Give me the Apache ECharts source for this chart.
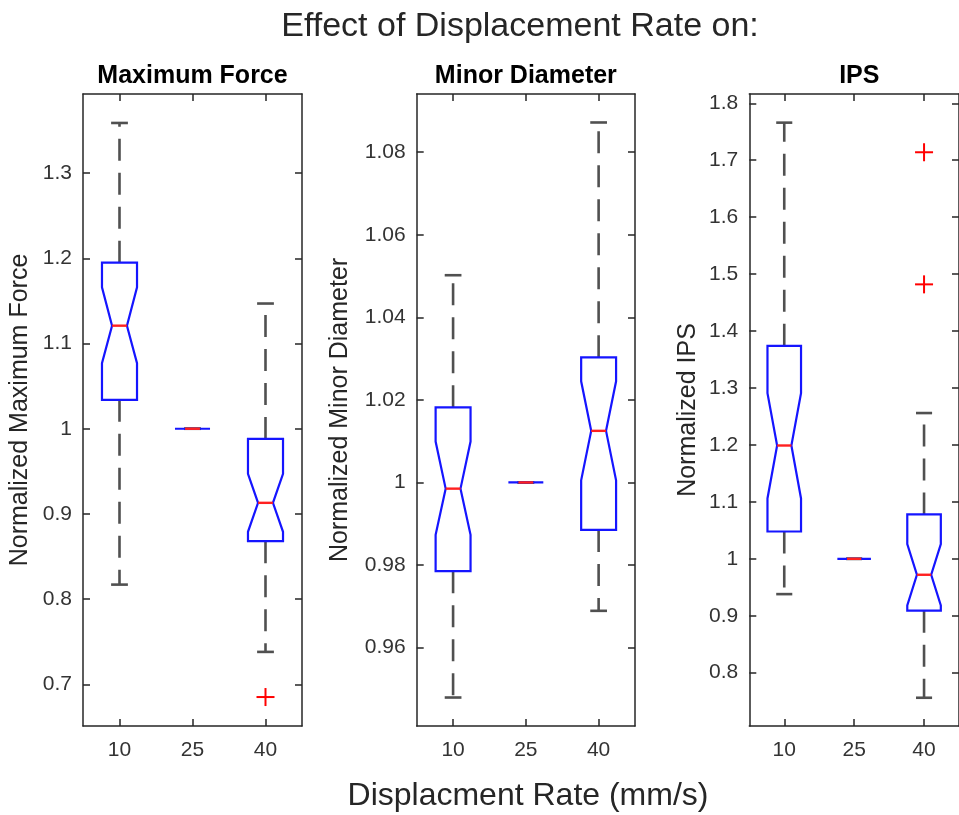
<!DOCTYPE html>
<html>
<head>
<meta charset="utf-8">
<script src="https://cdn.jsdelivr.net/npm/echarts@6/dist/echarts.min.js"></script>
<style>
html,body{margin:0;padding:0;background:#fff;}
#chart{width:959px;height:815px;}
</style>
</head>
<body>
<div id="chart"></div>
<script>
// ---------- data ----------
const categories = ['10', '25', '40'];

// Panel 1: Maximum Force
const mfLower   = [0.817, 1.0, 0.738];
const mfQ1      = [1.034, 1.0, 0.868];
const mfNotchLo = [1.077, 1.0, 0.879];
const mfMedian  = [1.121, 1.0, 0.913];
const mfNotchHi = [1.166, 1.0, 0.947];
const mfQ3      = [1.195, 1.0, 0.988];
const mfUpper   = [1.359, 1.0, 1.147];
const mfOutlierCat = ['40'];
const mfOutlierVal = [0.685];
const mfTicks = [0.7, 0.8, 0.9, 1.0, 1.1, 1.2, 1.3];

// Panel 2: Minor Diameter
const mdLower   = [0.9479, 1.0, 0.9689];
const mdQ1      = [0.9785, 1.0, 0.9885];
const mdNotchLo = [0.9873, 1.0, 1.0005];
const mdMedian  = [0.9985, 1.0, 1.0125];
const mdNotchHi = [1.0099, 1.0, 1.0245];
const mdQ3      = [1.0182, 1.0, 1.0303];
const mdUpper   = [1.0502, 1.0, 1.0872];
const mdOutlierCat = [];
const mdOutlierVal = [];
const mdTicks = [0.96, 0.98, 1.0, 1.02, 1.04, 1.06, 1.08];

// Panel 3: IPS
const ipsLower   = [0.938, 1.0, 0.756];
const ipsQ1      = [1.048, 1.0, 0.909];
const ipsNotchLo = [1.106, 1.0, 0.918];
const ipsMedian  = [1.199, 1.0, 0.972];
const ipsNotchHi = [1.291, 1.0, 1.026];
const ipsQ3      = [1.374, 1.0, 1.078];
const ipsUpper   = [1.766, 1.0, 1.256];
const ipsOutlierCat = ['40', '40'];
const ipsOutlierVal = [1.714, 1.482];
const ipsTicks = [0.8, 0.9, 1.0, 1.1, 1.2, 1.3, 1.4, 1.5, 1.6, 1.7, 1.8];

const panelTitles = ['Maximum Force', 'Minor Diameter', 'IPS'];
const yAxisNames = ['Normalized Maximum Force', 'Normalized Minor Diameter', 'Normalized IPS'];
const mainTitle = 'Effect of Displacement Rate on:';
const xAxisTitle = 'Displacment Rate (mm/s)';

// ---------- layout ----------
const FONT = '"Liberation Sans", Arial, Helvetica, sans-serif';
const panels = [
  {left: 83,    width: 219, min: 0.651, max: 1.393, nameGap: 50,
   stats: [mfLower, mfQ1, mfNotchLo, mfMedian, mfNotchHi, mfQ3, mfUpper],
   outCat: mfOutlierCat, outVal: mfOutlierVal, ticks: mfTicks},
  {left: 416.7, width: 218.3, min: 0.9410, max: 1.0941, nameGap: 64,
   stats: [mdLower, mdQ1, mdNotchLo, mdMedian, mdNotchHi, mdQ3, mdUpper],
   outCat: mdOutlierCat, outVal: mdOutlierVal, ticks: mdTicks},
  {left: 749.3, width: 220, min: 0.7064, max: 1.8163, nameGap: 49,
   stats: [ipsLower, ipsQ1, ipsNotchLo, ipsMedian, ipsNotchHi, ipsQ3, ipsUpper],
   outCat: ipsOutlierCat, outVal: ipsOutlierVal, ticks: ipsTicks}
];
const TOP = 94, HEIGHT = 632;
const AX = '#262626';
const fmt = v => String(+(+v).toFixed(3));

function renderBox(params, api) {
  const i = api.value(0);
  const lo = api.value(1), q1 = api.value(2), nlo = api.value(3), med = api.value(4),
        nhi = api.value(5), q3 = api.value(6), hi = api.value(7);
  const band = api.size([1, 0])[0];
  const hw = band * 0.24, nw = band * 0.102, cw = band * 0.115;
  const c = api.coord([i, med]);
  const cx = c[0];
  const y = v => api.coord([i, v])[1];
  const wStyle = {stroke: '#505050', lineWidth: 2.6, lineDash: [22, 12], fill: null};
  const cStyle = {stroke: '#505050', lineWidth: 2.6, fill: null};
  return {
    type: 'group',
    children: [
      {type: 'line', shape: {x1: cx, y1: y(q3), x2: cx, y2: y(hi)}, style: wStyle},
      {type: 'line', shape: {x1: cx, y1: y(q1), x2: cx, y2: y(lo)}, style: wStyle},
      {type: 'line', shape: {x1: cx - cw, y1: y(hi), x2: cx + cw, y2: y(hi)}, style: cStyle},
      {type: 'line', shape: {x1: cx - cw, y1: y(lo), x2: cx + cw, y2: y(lo)}, style: cStyle},
      {type: 'polygon', shape: {points: [
        [cx - hw, y(q1)], [cx - hw, y(nlo)], [cx - nw, y(med)], [cx - hw, y(nhi)], [cx - hw, y(q3)],
        [cx + hw, y(q3)], [cx + hw, y(nhi)], [cx + nw, y(med)], [cx + hw, y(nlo)], [cx + hw, y(q1)]
      ]}, style: {stroke: '#1515ff', lineWidth: 2.2, fill: null}},
      {type: 'line', shape: {x1: cx - nw, y1: y(med), x2: cx + nw, y2: y(med)},
       style: {stroke: '#ff2020', lineWidth: 2.4}}
    ]
  };
}

function renderOutlier(params, api) {
  const p = api.coord([api.value(0), api.value(1)]);
  const h = 9;
  const st = {stroke: '#ff0000', lineWidth: 2};
  return {type: 'group', children: [
    {type: 'line', shape: {x1: p[0] - h, y1: p[1], x2: p[0] + h, y2: p[1]}, style: st},
    {type: 'line', shape: {x1: p[0], y1: p[1] - h, x2: p[0], y2: p[1] + h}, style: st}
  ]};
}

const grid = [], xAxis = [], yAxis = [], series = [], graphic = [];
panels.forEach((pn, k) => {
  grid.push({left: pn.left, top: TOP, width: pn.width, height: HEIGHT, containLabel: false});
  const tickCommon = {show: true, inside: true, length: 7, lineStyle: {color: AX, width: 1.5}};
  const lineCommon = {show: true, onZero: false, lineStyle: {color: AX, width: 1.5}};
  xAxis.push({gridIndex: k, type: 'category', data: categories, position: 'bottom',
    axisLine: lineCommon, axisTick: Object.assign({alignWithLabel: true, interval: 0}, tickCommon),
    axisLabel: {color: '#333', fontSize: 21, fontFamily: FONT, margin: 14},
    splitLine: {show: false}});
  xAxis.push({gridIndex: k, type: 'category', data: categories, position: 'top',
    axisLine: lineCommon, axisTick: Object.assign({alignWithLabel: true, interval: 0}, tickCommon),
    axisLabel: {show: false}, splitLine: {show: false}});
  yAxis.push({gridIndex: k, type: 'value', min: pn.min, max: pn.max, position: 'left',
    axisLine: lineCommon,
    axisTick: Object.assign({customValues: pn.ticks}, tickCommon),
    axisLabel: {customValues: pn.ticks, formatter: fmt, color: '#333', fontSize: 21, fontFamily: FONT, margin: 11},
    splitLine: {show: false},
    name: yAxisNames[k], nameLocation: 'middle', nameGap: pn.nameGap,
    nameTextStyle: {color: '#262626', fontSize: 25, fontFamily: FONT}});
  yAxis.push({gridIndex: k, type: 'value', min: pn.min, max: pn.max, position: 'right',
    axisLine: lineCommon,
    axisTick: Object.assign({customValues: pn.ticks}, tickCommon),
    axisLabel: {show: false}, splitLine: {show: false}});

  const boxData = categories.map((c, i) => [i].concat(pn.stats.map(a => a[i])));
  series.push({type: 'custom', xAxisIndex: 2 * k, yAxisIndex: 2 * k,
    renderItem: renderBox, data: boxData, encode: {x: 0, y: [1, 2, 3, 4, 5, 6, 7]},
    clip: false, animation: false, silent: true});
  const outData = pn.outCat.map((c, j) => [categories.indexOf(c), pn.outVal[j]]);
  series.push({type: 'custom', xAxisIndex: 2 * k, yAxisIndex: 2 * k,
    renderItem: renderOutlier, data: outData, encode: {x: 0, y: 1},
    clip: false, animation: false, silent: true});

  graphic.push({type: 'text', x: pn.left + pn.width / 2, y: 76,
    style: {text: panelTitles[k], font: 'bold 25px ' + FONT, fill: '#000',
      textAlign: 'center', textVerticalAlign: 'middle'}});
});

graphic.push({type: 'text', x: 520, y: 27,
  style: {text: mainTitle, font: '34px ' + FONT, fill: '#262626', textAlign: 'center', textVerticalAlign: 'middle'}});
graphic.push({type: 'text', x: 528, y: 796,
  style: {text: xAxisTitle, font: '32px ' + FONT, fill: '#262626', textAlign: 'center', textVerticalAlign: 'middle'}});

const chart = echarts.init(document.getElementById('chart'), null, {renderer: 'canvas'});
chart.setOption({
  backgroundColor: '#ffffff',
  animation: false,
  grid, xAxis, yAxis, series, graphic
});
</script>
</body>
</html>
